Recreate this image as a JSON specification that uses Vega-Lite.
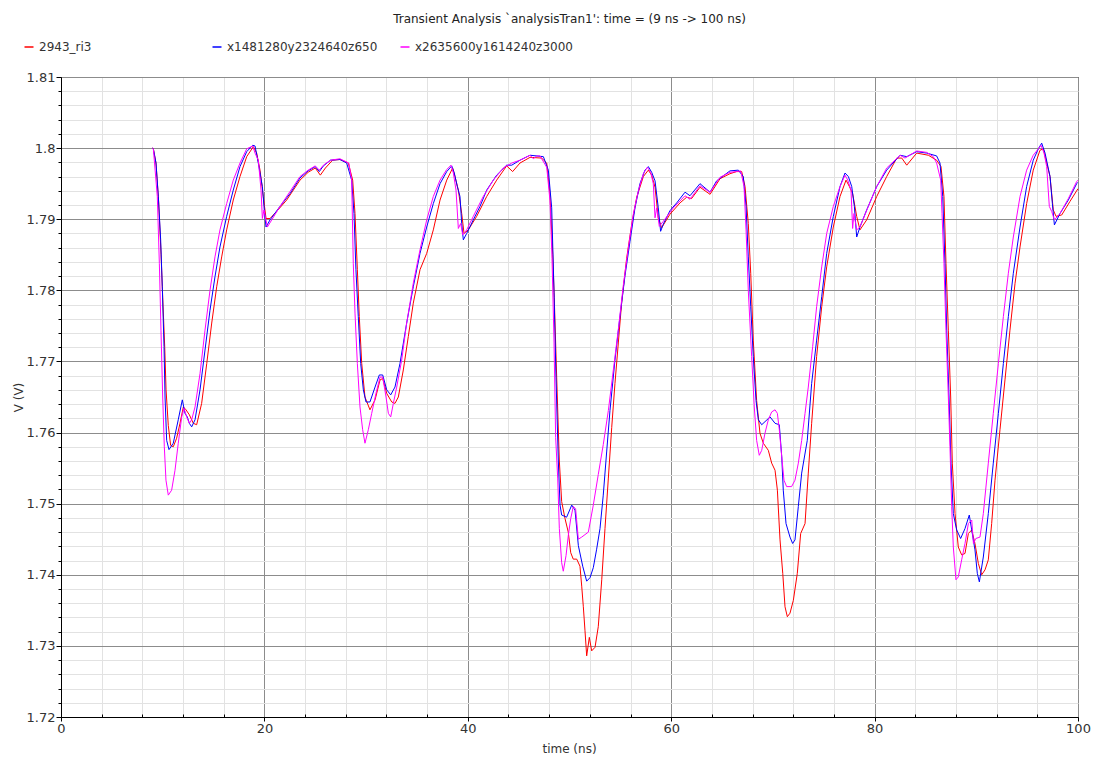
{
  "$schema": "https://vega.github.io/schema/vega-lite/v6.json",
  "width": 1017,
  "height": 640,
  "autosize": {"type": "none"},
  "padding": {"left": 61, "top": 77, "right": 18, "bottom": 41},
  "background": "white",
  "title": {
    "text": "Transient Analysis `analysisTran1': time = (9 ns -> 100 ns)",
    "anchor": "middle",
    "font": "DejaVu Sans",
    "fontSize": 12,
    "fontWeight": "normal",
    "color": "#222222",
    "offset": 15
  },
  "config": {
    "view": {"stroke": "black", "strokeWidth": 1},
    "axis": {"labelFont": "DejaVu Sans", "titleFont": "DejaVu Sans", "titleFontWeight": "normal", "labelColor": "#333333", "titleColor": "#333333", "labelFlush": false}
  },
  "datasets": {
    "curves": [
      {"s":"2943_ri3","t":9,"v":1.8},{"s":"2943_ri3","t":9.08,"v":1.7999},{"s":"2943_ri3","t":9.34,"v":1.7979},{"s":"2943_ri3","t":9.6,"v":1.7925},{"s":"2943_ri3","t":9.84,"v":1.785},{"s":"2943_ri3","t":10.0,"v":1.779},{"s":"2943_ri3","t":10.2,"v":1.772},{"s":"2943_ri3","t":10.33,"v":1.766},{"s":"2943_ri3","t":10.55,"v":1.761},{"s":"2943_ri3","t":10.78,"v":1.7582},{"s":"2943_ri3","t":11.04,"v":1.758},{"s":"2943_ri3","t":11.37,"v":1.7592},{"s":"2943_ri3","t":11.7,"v":1.7613},{"s":"2943_ri3","t":12.03,"v":1.7636},{"s":"2943_ri3","t":12.29,"v":1.7632},{"s":"2943_ri3","t":12.62,"v":1.7625},{"s":"2943_ri3","t":13.01,"v":1.7613},{"s":"2943_ri3","t":13.34,"v":1.7611},{"s":"2943_ri3","t":13.83,"v":1.7641},{"s":"2943_ri3","t":14.33,"v":1.7697},{"s":"2943_ri3","t":14.82,"v":1.7754},{"s":"2943_ri3","t":15.31,"v":1.7805},{"s":"2943_ri3","t":15.8,"v":1.7847},{"s":"2943_ri3","t":16.29,"v":1.7885},{"s":"2943_ri3","t":16.94,"v":1.7927},{"s":"2943_ri3","t":17.6,"v":1.796},{"s":"2943_ri3","t":18.26,"v":1.7988},{"s":"2943_ri3","t":18.91,"v":1.8002},{"s":"2943_ri3","t":19.24,"v":1.7993},{"s":"2943_ri3","t":19.57,"v":1.7969},{"s":"2943_ri3","t":19.89,"v":1.7932},{"s":"2943_ri3","t":20.16,"v":1.7901},{"s":"2943_ri3","t":20.55,"v":1.7901},{"s":"2943_ri3","t":21.21,"v":1.7911},{"s":"2943_ri3","t":22.19,"v":1.7927},{"s":"2943_ri3","t":23.5,"v":1.7955},{"s":"2943_ri3","t":24.3,"v":1.7966},{"s":"2943_ri3","t":25.0,"v":1.7972},{"s":"2943_ri3","t":25.5,"v":1.7962},{"s":"2943_ri3","t":26.0,"v":1.7972},{"s":"2943_ri3","t":26.7,"v":1.7983},{"s":"2943_ri3","t":27.43,"v":1.7984},{"s":"2943_ri3","t":28.25,"v":1.7979},{"s":"2943_ri3","t":28.68,"v":1.7955},{"s":"2943_ri3","t":28.91,"v":1.7908},{"s":"2943_ri3","t":29.14,"v":1.7829},{"s":"2943_ri3","t":29.33,"v":1.7763},{"s":"2943_ri3","t":29.57,"v":1.7697},{"s":"2943_ri3","t":29.89,"v":1.765},{"s":"2943_ri3","t":30.38,"v":1.7632},{"s":"2943_ri3","t":30.88,"v":1.7646},{"s":"2943_ri3","t":31.37,"v":1.7674},{"s":"2943_ri3","t":31.63,"v":1.7676},{"s":"2943_ri3","t":32.03,"v":1.7655},{"s":"2943_ri3","t":32.52,"v":1.7643},{"s":"2943_ri3","t":32.84,"v":1.7641},{"s":"2943_ri3","t":33.17,"v":1.765},{"s":"2943_ri3","t":33.66,"v":1.7688},{"s":"2943_ri3","t":34.15,"v":1.7735},{"s":"2943_ri3","t":34.64,"v":1.7782},{"s":"2943_ri3","t":35.3,"v":1.7829},{"s":"2943_ri3","t":35.96,"v":1.7852},{"s":"2943_ri3","t":36.61,"v":1.7885},{"s":"2943_ri3","t":37.27,"v":1.7927},{"s":"2943_ri3","t":37.93,"v":1.7955},{"s":"2943_ri3","t":38.51,"v":1.7972},{"s":"2943_ri3","t":38.74,"v":1.796},{"s":"2943_ri3","t":39.07,"v":1.7941},{"s":"2943_ri3","t":39.4,"v":1.7908},{"s":"2943_ri3","t":39.63,"v":1.788},{"s":"2943_ri3","t":40.05,"v":1.7885},{"s":"2943_ri3","t":40.87,"v":1.7904},{"s":"2943_ri3","t":41.86,"v":1.7932},{"s":"2943_ri3","t":42.84,"v":1.7955},{"s":"2943_ri3","t":43.82,"v":1.7975},{"s":"2943_ri3","t":44.41,"v":1.7967},{"s":"2943_ri3","t":45.13,"v":1.7979},{"s":"2943_ri3","t":46.12,"v":1.7987},{"s":"2943_ri3","t":47.26,"v":1.7986},{"s":"2943_ri3","t":47.76,"v":1.7979},{"s":"2943_ri3","t":48.08,"v":1.7935},{"s":"2943_ri3","t":48.35,"v":1.785},{"s":"2943_ri3","t":48.5,"v":1.779},{"s":"2943_ri3","t":48.74,"v":1.7678},{"s":"2943_ri3","t":49.0,"v":1.756},{"s":"2943_ri3","t":49.23,"v":1.7503},{"s":"2943_ri3","t":49.56,"v":1.7479},{"s":"2943_ri3","t":49.88,"v":1.746},{"s":"2943_ri3","t":50.12,"v":1.7431},{"s":"2943_ri3","t":50.37,"v":1.7422},{"s":"2943_ri3","t":50.71,"v":1.7422},{"s":"2943_ri3","t":51.03,"v":1.7412},{"s":"2943_ri3","t":51.2,"v":1.7384},{"s":"2943_ri3","t":51.36,"v":1.7355},{"s":"2943_ri3","t":51.52,"v":1.7322},{"s":"2943_ri3","t":51.69,"v":1.7286},{"s":"2943_ri3","t":51.95,"v":1.7312},{"s":"2943_ri3","t":52.18,"v":1.7293},{"s":"2943_ri3","t":52.51,"v":1.7298},{"s":"2943_ri3","t":52.83,"v":1.7327},{"s":"2943_ri3","t":53.17,"v":1.7393},{"s":"2943_ri3","t":53.49,"v":1.7465},{"s":"2943_ri3","t":53.82,"v":1.7536},{"s":"2943_ri3","t":54.15,"v":1.7607},{"s":"2943_ri3","t":54.47,"v":1.7669},{"s":"2943_ri3","t":54.8,"v":1.7726},{"s":"2943_ri3","t":55.13,"v":1.7783},{"s":"2943_ri3","t":55.62,"v":1.7845},{"s":"2943_ri3","t":56.12,"v":1.7893},{"s":"2943_ri3","t":56.61,"v":1.7931},{"s":"2943_ri3","t":57.26,"v":1.796},{"s":"2943_ri3","t":57.75,"v":1.7969},{"s":"2943_ri3","t":58.08,"v":1.7962},{"s":"2943_ri3","t":58.41,"v":1.7945},{"s":"2943_ri3","t":58.73,"v":1.7902},{"s":"2943_ri3","t":59.06,"v":1.7888},{"s":"2943_ri3","t":59.88,"v":1.7907},{"s":"2943_ri3","t":60.87,"v":1.7923},{"s":"2943_ri3","t":61.52,"v":1.7931},{"s":"2943_ri3","t":62.0,"v":1.7929},{"s":"2943_ri3","t":62.83,"v":1.7945},{"s":"2943_ri3","t":63.82,"v":1.7935},{"s":"2943_ri3","t":64.8,"v":1.7957},{"s":"2943_ri3","t":65.78,"v":1.7964},{"s":"2943_ri3","t":66.43,"v":1.7967},{"s":"2943_ri3","t":66.93,"v":1.7967},{"s":"2943_ri3","t":67.26,"v":1.7946},{"s":"2943_ri3","t":67.58,"v":1.7894},{"s":"2943_ri3","t":67.82,"v":1.7824},{"s":"2943_ri3","t":68.07,"v":1.773},{"s":"2943_ri3","t":68.4,"v":1.7645},{"s":"2943_ri3","t":68.73,"v":1.7599},{"s":"2943_ri3","t":69.06,"v":1.7585},{"s":"2943_ri3","t":69.55,"v":1.7575},{"s":"2943_ri3","t":69.88,"v":1.7557},{"s":"2943_ri3","t":70.21,"v":1.7547},{"s":"2943_ri3","t":70.44,"v":1.7519},{"s":"2943_ri3","t":70.7,"v":1.7449},{"s":"2943_ri3","t":70.97,"v":1.7402},{"s":"2943_ri3","t":71.19,"v":1.7355},{"s":"2943_ri3","t":71.42,"v":1.7341},{"s":"2943_ri3","t":71.68,"v":1.7346},{"s":"2943_ri3","t":72.01,"v":1.7364},{"s":"2943_ri3","t":72.4,"v":1.7402},{"s":"2943_ri3","t":72.73,"v":1.7458},{"s":"2943_ri3","t":73.16,"v":1.7472},{"s":"2943_ri3","t":73.48,"v":1.7543},{"s":"2943_ri3","t":73.81,"v":1.7613},{"s":"2943_ri3","t":74.3,"v":1.7707},{"s":"2943_ri3","t":74.8,"v":1.7777},{"s":"2943_ri3","t":75.29,"v":1.7833},{"s":"2943_ri3","t":75.94,"v":1.7889},{"s":"2943_ri3","t":76.6,"v":1.7932},{"s":"2943_ri3","t":77.19,"v":1.7955},{"s":"2943_ri3","t":77.52,"v":1.7946},{"s":"2943_ri3","t":77.84,"v":1.7936},{"s":"2943_ri3","t":78.24,"v":1.7904},{"s":"2943_ri3","t":78.56,"v":1.7885},{"s":"2943_ri3","t":79.22,"v":1.7899},{"s":"2943_ri3","t":80.21,"v":1.7932},{"s":"2943_ri3","t":81.19,"v":1.796},{"s":"2943_ri3","t":82.18,"v":1.7986},{"s":"2943_ri3","t":82.67,"v":1.7986},{"s":"2943_ri3","t":83.16,"v":1.7976},{"s":"2943_ri3","t":84.14,"v":1.7993},{"s":"2943_ri3","t":85.28,"v":1.799},{"s":"2943_ri3","t":86.1,"v":1.7983},{"s":"2943_ri3","t":86.53,"v":1.7974},{"s":"2943_ri3","t":86.82,"v":1.7932},{"s":"2943_ri3","t":87.02,"v":1.7838},{"s":"2943_ri3","t":87.25,"v":1.7744},{"s":"2943_ri3","t":87.48,"v":1.765},{"s":"2943_ri3","t":87.64,"v":1.7557},{"s":"2943_ri3","t":87.91,"v":1.7486},{"s":"2943_ri3","t":88.23,"v":1.7439},{"s":"2943_ri3","t":88.56,"v":1.7428},{"s":"2943_ri3","t":88.89,"v":1.743},{"s":"2943_ri3","t":89.22,"v":1.7458},{"s":"2943_ri3","t":89.55,"v":1.7463},{"s":"2943_ri3","t":89.87,"v":1.7444},{"s":"2943_ri3","t":90.2,"v":1.7416},{"s":"2943_ri3","t":90.53,"v":1.74},{"s":"2943_ri3","t":90.86,"v":1.7407},{"s":"2943_ri3","t":91.18,"v":1.7421},{"s":"2943_ri3","t":91.51,"v":1.7472},{"s":"2943_ri3","t":91.84,"v":1.7533},{"s":"2943_ri3","t":92.33,"v":1.7604},{"s":"2943_ri3","t":92.82,"v":1.7674},{"s":"2943_ri3","t":93.31,"v":1.7744},{"s":"2943_ri3","t":93.81,"v":1.781},{"s":"2943_ri3","t":94.3,"v":1.7861},{"s":"2943_ri3","t":94.95,"v":1.7922},{"s":"2943_ri3","t":95.6,"v":1.7969},{"s":"2943_ri3","t":96.26,"v":1.7997},{"s":"2943_ri3","t":96.59,"v":1.7999},{"s":"2943_ri3","t":96.92,"v":1.7979},{"s":"2943_ri3","t":97.25,"v":1.796},{"s":"2943_ri3","t":97.57,"v":1.7913},{"s":"2943_ri3","t":97.84,"v":1.7904},{"s":"2943_ri3","t":98.4,"v":1.7906},{"s":"2943_ri3","t":99.21,"v":1.7925},{"s":"2943_ri3","t":100,"v":1.7943},

      {"s":"x1481280y2324640z650","t":9,"v":1.8},{"s":"x1481280y2324640z650","t":9.08,"v":1.7999},{"s":"x1481280y2324640z650","t":9.34,"v":1.7979},{"s":"x1481280y2324640z650","t":9.57,"v":1.7932},{"s":"x1481280y2324640z650","t":9.8,"v":1.7871},{"s":"x1481280y2324640z650","t":9.96,"v":1.7805},{"s":"x1481280y2324640z650","t":10.13,"v":1.7721},{"s":"x1481280y2324640z650","t":10.23,"v":1.765},{"s":"x1481280y2324640z650","t":10.39,"v":1.7589},{"s":"x1481280y2324640z650","t":10.62,"v":1.7576},{"s":"x1481280y2324640z650","t":11.04,"v":1.7585},{"s":"x1481280y2324640z650","t":11.53,"v":1.7618},{"s":"x1481280y2324640z650","t":11.93,"v":1.7646},{"s":"x1481280y2324640z650","t":12.19,"v":1.7627},{"s":"x1481280y2324640z650","t":12.42,"v":1.7622},{"s":"x1481280y2324640z650","t":12.62,"v":1.7613},{"s":"x1481280y2324640z650","t":12.85,"v":1.7608},{"s":"x1481280y2324640z650","t":13.18,"v":1.7618},{"s":"x1481280y2324640z650","t":13.67,"v":1.766},{"s":"x1481280y2324640z650","t":14.16,"v":1.7716},{"s":"x1481280y2324640z650","t":14.65,"v":1.7772},{"s":"x1481280y2324640z650","t":15.14,"v":1.7819},{"s":"x1481280y2324640z650","t":15.63,"v":1.7861},{"s":"x1481280y2324640z650","t":16.29,"v":1.7904},{"s":"x1481280y2324640z650","t":16.94,"v":1.7941},{"s":"x1481280y2324640z650","t":17.6,"v":1.7974},{"s":"x1481280y2324640z650","t":18.26,"v":1.7995},{"s":"x1481280y2324640z650","t":18.85,"v":1.8004},{"s":"x1481280y2324640z650","t":19.08,"v":1.8003},{"s":"x1481280y2324640z650","t":19.4,"v":1.7979},{"s":"x1481280y2324640z650","t":19.8,"v":1.7946},{"s":"x1481280y2324640z650","t":19.99,"v":1.7913},{"s":"x1481280y2324640z650","t":20.16,"v":1.7889},{"s":"x1481280y2324640z650","t":20.55,"v":1.7899},{"s":"x1481280y2324640z650","t":21.53,"v":1.7918},{"s":"x1481280y2324640z650","t":22.52,"v":1.7936},{"s":"x1481280y2324640z650","t":23.5,"v":1.7958},{"s":"x1481280y2324640z650","t":24.3,"v":1.7968},{"s":"x1481280y2324640z650","t":25.0,"v":1.7974},{"s":"x1481280y2324640z650","t":25.4,"v":1.7967},{"s":"x1481280y2324640z650","t":25.8,"v":1.7975},{"s":"x1481280y2324640z650","t":26.5,"v":1.7983},{"s":"x1481280y2324640z650","t":27.43,"v":1.7984},{"s":"x1481280y2324640z650","t":28.09,"v":1.7979},{"s":"x1481280y2324640z650","t":28.58,"v":1.7955},{"s":"x1481280y2324640z650","t":28.81,"v":1.7908},{"s":"x1481280y2324640z650","t":29.0,"v":1.7829},{"s":"x1481280y2324640z650","t":29.23,"v":1.7763},{"s":"x1481280y2324640z650","t":29.47,"v":1.7697},{"s":"x1481280y2324640z650","t":29.73,"v":1.766},{"s":"x1481280y2324640z650","t":29.99,"v":1.7643},{"s":"x1481280y2324640z650","t":30.38,"v":1.7643},{"s":"x1481280y2324640z650","t":30.88,"v":1.7664},{"s":"x1481280y2324640z650","t":31.3,"v":1.7681},{"s":"x1481280y2324640z650","t":31.63,"v":1.7681},{"s":"x1481280y2324640z650","t":32.03,"v":1.766},{"s":"x1481280y2324640z650","t":32.42,"v":1.7653},{"s":"x1481280y2324640z650","t":32.84,"v":1.7664},{"s":"x1481280y2324640z650","t":33.33,"v":1.7697},{"s":"x1481280y2324640z650","t":33.99,"v":1.7754},{"s":"x1481280y2324640z650","t":34.64,"v":1.7805},{"s":"x1481280y2324640z650","t":35.3,"v":1.7852},{"s":"x1481280y2324640z650","t":35.96,"v":1.7889},{"s":"x1481280y2324640z650","t":36.61,"v":1.7922},{"s":"x1481280y2324640z650","t":37.27,"v":1.795},{"s":"x1481280y2324640z650","t":37.93,"v":1.7967},{"s":"x1481280y2324640z650","t":38.42,"v":1.7975},{"s":"x1481280y2324640z650","t":38.67,"v":1.7965},{"s":"x1481280y2324640z650","t":38.97,"v":1.7946},{"s":"x1481280y2324640z650","t":39.23,"v":1.7932},{"s":"x1481280y2324640z650","t":39.4,"v":1.7894},{"s":"x1481280y2324640z650","t":39.56,"v":1.7871},{"s":"x1481280y2324640z650","t":39.89,"v":1.788},{"s":"x1481280y2324640z650","t":40.54,"v":1.7899},{"s":"x1481280y2324640z650","t":41.2,"v":1.7918},{"s":"x1481280y2324640z650","t":41.86,"v":1.7941},{"s":"x1481280y2324640z650","t":42.84,"v":1.7962},{"s":"x1481280y2324640z650","t":43.82,"v":1.7976},{"s":"x1481280y2324640z650","t":44.32,"v":1.7976},{"s":"x1481280y2324640z650","t":45.13,"v":1.7983},{"s":"x1481280y2324640z650","t":46.12,"v":1.799},{"s":"x1481280y2324640z650","t":47.43,"v":1.7988},{"s":"x1481280y2324640z650","t":47.92,"v":1.7969},{"s":"x1481280y2324640z650","t":48.25,"v":1.7916},{"s":"x1481280y2324640z650","t":48.48,"v":1.7797},{"s":"x1481280y2324640z650","t":48.67,"v":1.7678},{"s":"x1481280y2324640z650","t":48.9,"v":1.756},{"s":"x1481280y2324640z650","t":49.07,"v":1.7498},{"s":"x1481280y2324640z650","t":49.23,"v":1.7484},{"s":"x1481280y2324640z650","t":49.72,"v":1.7481},{"s":"x1481280y2324640z650","t":50.22,"v":1.7498},{"s":"x1481280y2324640z650","t":50.54,"v":1.7491},{"s":"x1481280y2324640z650","t":50.87,"v":1.7441},{"s":"x1481280y2324640z650","t":51.3,"v":1.7412},{"s":"x1481280y2324640z650","t":51.69,"v":1.7391},{"s":"x1481280y2324640z650","t":52.02,"v":1.7396},{"s":"x1481280y2324640z650","t":52.34,"v":1.741},{"s":"x1481280y2324640z650","t":52.67,"v":1.7436},{"s":"x1481280y2324640z650","t":53.0,"v":1.7465},{"s":"x1481280y2324640z650","t":53.32,"v":1.7512},{"s":"x1481280y2324640z650","t":53.66,"v":1.7574},{"s":"x1481280y2324640z650","t":53.98,"v":1.7631},{"s":"x1481280y2324640z650","t":54.47,"v":1.7702},{"s":"x1481280y2324640z650","t":54.97,"v":1.7764},{"s":"x1481280y2324640z650","t":55.46,"v":1.7821},{"s":"x1481280y2324640z650","t":55.95,"v":1.7869},{"s":"x1481280y2324640z650","t":56.44,"v":1.7916},{"s":"x1481280y2324640z650","t":56.93,"v":1.795},{"s":"x1481280y2324640z650","t":57.42,"v":1.7969},{"s":"x1481280y2324640z650","t":57.75,"v":1.7974},{"s":"x1481280y2324640z650","t":58.08,"v":1.7966},{"s":"x1481280y2324640z650","t":58.41,"v":1.7954},{"s":"x1481280y2324640z650","t":58.73,"v":1.7916},{"s":"x1481280y2324640z650","t":58.96,"v":1.7883},{"s":"x1481280y2324640z650","t":59.22,"v":1.7893},{"s":"x1481280y2324640z650","t":59.88,"v":1.7912},{"s":"x1481280y2324640z650","t":60.54,"v":1.7923},{"s":"x1481280y2324640z650","t":61.36,"v":1.7938},{"s":"x1481280y2324640z650","t":61.85,"v":1.7933},{"s":"x1481280y2324640z650","t":62.83,"v":1.795},{"s":"x1481280y2324640z650","t":63.82,"v":1.7938},{"s":"x1481280y2324640z650","t":64.47,"v":1.7954},{"s":"x1481280y2324640z650","t":65.78,"v":1.7968},{"s":"x1481280y2324640z650","t":66.6,"v":1.7969},{"s":"x1481280y2324640z650","t":67.09,"v":1.796},{"s":"x1481280y2324640z650","t":67.36,"v":1.7918},{"s":"x1481280y2324640z650","t":67.58,"v":1.7847},{"s":"x1481280y2324640z650","t":67.82,"v":1.7777},{"s":"x1481280y2324640z650","t":68.07,"v":1.7707},{"s":"x1481280y2324640z650","t":68.34,"v":1.7645},{"s":"x1481280y2324640z650","t":68.57,"v":1.7618},{"s":"x1481280y2324640z650","t":68.9,"v":1.7611},{"s":"x1481280y2324640z650","t":69.72,"v":1.7622},{"s":"x1481280y2324640z650","t":70.21,"v":1.7613},{"s":"x1481280y2324640z650","t":70.63,"v":1.7611},{"s":"x1481280y2324640z650","t":70.87,"v":1.7566},{"s":"x1481280y2324640z650","t":71.02,"v":1.7519},{"s":"x1481280y2324640z650","t":71.29,"v":1.7472},{"s":"x1481280y2324640z650","t":71.68,"v":1.7453},{"s":"x1481280y2324640z650","t":71.94,"v":1.7444},{"s":"x1481280y2324640z650","t":72.17,"v":1.7449},{"s":"x1481280y2324640z650","t":72.5,"v":1.7496},{"s":"x1481280y2324640z650","t":72.83,"v":1.7543},{"s":"x1481280y2324640z650","t":73.38,"v":1.7589},{"s":"x1481280y2324640z650","t":73.81,"v":1.7669},{"s":"x1481280y2324640z650","t":74.3,"v":1.773},{"s":"x1481280y2324640z650","t":74.8,"v":1.7791},{"s":"x1481280y2324640z650","t":75.29,"v":1.7852},{"s":"x1481280y2324640z650","t":75.94,"v":1.7904},{"s":"x1481280y2324640z650","t":76.6,"v":1.7946},{"s":"x1481280y2324640z650","t":77.09,"v":1.7965},{"s":"x1481280y2324640z650","t":77.42,"v":1.796},{"s":"x1481280y2324640z650","t":77.75,"v":1.7946},{"s":"x1481280y2324640z650","t":78.01,"v":1.7918},{"s":"x1481280y2324640z650","t":78.24,"v":1.7875},{"s":"x1481280y2324640z650","t":78.56,"v":1.7889},{"s":"x1481280y2324640z650","t":79.22,"v":1.7913},{"s":"x1481280y2324640z650","t":80.21,"v":1.7946},{"s":"x1481280y2324640z650","t":81.19,"v":1.7969},{"s":"x1481280y2324640z650","t":82.5,"v":1.799},{"s":"x1481280y2324640z650","t":83.16,"v":1.7988},{"s":"x1481280y2324640z650","t":84.14,"v":1.7995},{"s":"x1481280y2324640z650","t":85.12,"v":1.7993},{"s":"x1481280y2324640z650","t":86.1,"v":1.7989},{"s":"x1481280y2324640z650","t":86.43,"v":1.7979},{"s":"x1481280y2324640z650","t":86.7,"v":1.7932},{"s":"x1481280y2324640z650","t":86.92,"v":1.7838},{"s":"x1481280y2324640z650","t":87.09,"v":1.7744},{"s":"x1481280y2324640z650","t":87.32,"v":1.765},{"s":"x1481280y2324640z650","t":87.51,"v":1.7557},{"s":"x1481280y2324640z650","t":87.74,"v":1.7486},{"s":"x1481280y2324640z650","t":88.07,"v":1.7463},{"s":"x1481280y2324640z650","t":88.46,"v":1.7451},{"s":"x1481280y2324640z650","t":88.89,"v":1.7465},{"s":"x1481280y2324640z650","t":89.31,"v":1.7484},{"s":"x1481280y2324640z650","t":89.55,"v":1.7463},{"s":"x1481280y2324640z650","t":89.87,"v":1.7435},{"s":"x1481280y2324640z650","t":90.1,"v":1.7402},{"s":"x1481280y2324640z650","t":90.3,"v":1.739},{"s":"x1481280y2324640z650","t":90.69,"v":1.7425},{"s":"x1481280y2324640z650","t":91.18,"v":1.7486},{"s":"x1481280y2324640z650","t":91.67,"v":1.7557},{"s":"x1481280y2324640z650","t":92.17,"v":1.7627},{"s":"x1481280y2324640z650","t":92.66,"v":1.7697},{"s":"x1481280y2324640z650","t":93.15,"v":1.7763},{"s":"x1481280y2324640z650","t":93.64,"v":1.7824},{"s":"x1481280y2324640z650","t":94.3,"v":1.7889},{"s":"x1481280y2324640z650","t":94.95,"v":1.7946},{"s":"x1481280y2324640z650","t":95.6,"v":1.7983},{"s":"x1481280y2324640z650","t":96.1,"v":1.7999},{"s":"x1481280y2324640z650","t":96.43,"v":1.8007},{"s":"x1481280y2324640z650","t":96.76,"v":1.7993},{"s":"x1481280y2324640z650","t":97.25,"v":1.796},{"s":"x1481280y2324640z650","t":97.48,"v":1.7922},{"s":"x1481280y2324640z650","t":97.68,"v":1.7892},{"s":"x1481280y2324640z650","t":98.23,"v":1.7908},{"s":"x1481280y2324640z650","t":99.05,"v":1.7927},{"s":"x1481280y2324640z650","t":99.87,"v":1.795},{"s":"x1481280y2324640z650","t":100,"v":1.7952},

      {"s":"x2635600y1614240z3000","t":9,"v":1.8},{"s":"x2635600y1614240z3000","t":9.08,"v":1.7999},{"s":"x2635600y1614240z3000","t":9.47,"v":1.7932},{"s":"x2635600y1614240z3000","t":9.67,"v":1.7838},{"s":"x2635600y1614240z3000","t":9.83,"v":1.7744},{"s":"x2635600y1614240z3000","t":10.0,"v":1.765},{"s":"x2635600y1614240z3000","t":10.16,"v":1.758},{"s":"x2635600y1614240z3000","t":10.32,"v":1.7533},{"s":"x2635600y1614240z3000","t":10.55,"v":1.7512},{"s":"x2635600y1614240z3000","t":10.88,"v":1.7519},{"s":"x2635600y1614240z3000","t":11.21,"v":1.7547},{"s":"x2635600y1614240z3000","t":11.53,"v":1.7585},{"s":"x2635600y1614240z3000","t":11.87,"v":1.7622},{"s":"x2635600y1614240z3000","t":12.09,"v":1.7634},{"s":"x2635600y1614240z3000","t":12.36,"v":1.7622},{"s":"x2635600y1614240z3000","t":12.62,"v":1.7613},{"s":"x2635600y1614240z3000","t":12.85,"v":1.7618},{"s":"x2635600y1614240z3000","t":13.18,"v":1.7636},{"s":"x2635600y1614240z3000","t":13.67,"v":1.7683},{"s":"x2635600y1614240z3000","t":14.16,"v":1.7744},{"s":"x2635600y1614240z3000","t":14.65,"v":1.78},{"s":"x2635600y1614240z3000","t":15.14,"v":1.7847},{"s":"x2635600y1614240z3000","t":15.63,"v":1.7885},{"s":"x2635600y1614240z3000","t":16.29,"v":1.7922},{"s":"x2635600y1614240z3000","t":16.94,"v":1.7955},{"s":"x2635600y1614240z3000","t":17.6,"v":1.7979},{"s":"x2635600y1614240z3000","t":18.26,"v":1.7999},{"s":"x2635600y1614240z3000","t":18.85,"v":1.8003},{"s":"x2635600y1614240z3000","t":19.08,"v":1.7993},{"s":"x2635600y1614240z3000","t":19.4,"v":1.7983},{"s":"x2635600y1614240z3000","t":19.67,"v":1.7941},{"s":"x2635600y1614240z3000","t":19.8,"v":1.7901},{"s":"x2635600y1614240z3000","t":19.96,"v":1.7913},{"s":"x2635600y1614240z3000","t":20.29,"v":1.7889},{"s":"x2635600y1614240z3000","t":20.72,"v":1.7899},{"s":"x2635600y1614240z3000","t":21.53,"v":1.7918},{"s":"x2635600y1614240z3000","t":22.52,"v":1.7939},{"s":"x2635600y1614240z3000","t":23.5,"v":1.796},{"s":"x2635600y1614240z3000","t":24.3,"v":1.7969},{"s":"x2635600y1614240z3000","t":25.0,"v":1.7975},{"s":"x2635600y1614240z3000","t":25.4,"v":1.7969},{"s":"x2635600y1614240z3000","t":25.8,"v":1.7976},{"s":"x2635600y1614240z3000","t":26.5,"v":1.7983},{"s":"x2635600y1614240z3000","t":27.43,"v":1.7985},{"s":"x2635600y1614240z3000","t":28.3,"v":1.7979},{"s":"x2635600y1614240z3000","t":28.58,"v":1.7955},{"s":"x2635600y1614240z3000","t":28.74,"v":1.7838},{"s":"x2635600y1614240z3000","t":28.91,"v":1.7768},{"s":"x2635600y1614240z3000","t":29.14,"v":1.7697},{"s":"x2635600y1614240z3000","t":29.4,"v":1.7636},{"s":"x2635600y1614240z3000","t":29.66,"v":1.7604},{"s":"x2635600y1614240z3000","t":29.89,"v":1.7585},{"s":"x2635600y1614240z3000","t":30.22,"v":1.7604},{"s":"x2635600y1614240z3000","t":30.55,"v":1.7627},{"s":"x2635600y1614240z3000","t":30.97,"v":1.7655},{"s":"x2635600y1614240z3000","t":31.37,"v":1.7678},{"s":"x2635600y1614240z3000","t":31.63,"v":1.7678},{"s":"x2635600y1614240z3000","t":31.96,"v":1.765},{"s":"x2635600y1614240z3000","t":32.19,"v":1.7627},{"s":"x2635600y1614240z3000","t":32.42,"v":1.7622},{"s":"x2635600y1614240z3000","t":32.68,"v":1.7641},{"s":"x2635600y1614240z3000","t":33.01,"v":1.7664},{"s":"x2635600y1614240z3000","t":33.5,"v":1.7702},{"s":"x2635600y1614240z3000","t":33.99,"v":1.7754},{"s":"x2635600y1614240z3000","t":34.64,"v":1.781},{"s":"x2635600y1614240z3000","t":35.3,"v":1.7857},{"s":"x2635600y1614240z3000","t":35.96,"v":1.7899},{"s":"x2635600y1614240z3000","t":36.61,"v":1.7932},{"s":"x2635600y1614240z3000","t":37.27,"v":1.7955},{"s":"x2635600y1614240z3000","t":37.93,"v":1.797},{"s":"x2635600y1614240z3000","t":38.35,"v":1.7976},{"s":"x2635600y1614240z3000","t":38.58,"v":1.7965},{"s":"x2635600y1614240z3000","t":38.84,"v":1.7941},{"s":"x2635600y1614240z3000","t":39.07,"v":1.7887},{"s":"x2635600y1614240z3000","t":39.3,"v":1.7894},{"s":"x2635600y1614240z3000","t":39.5,"v":1.7878},{"s":"x2635600y1614240z3000","t":39.89,"v":1.7885},{"s":"x2635600y1614240z3000","t":40.54,"v":1.7904},{"s":"x2635600y1614240z3000","t":41.52,"v":1.7932},{"s":"x2635600y1614240z3000","t":42.51,"v":1.7955},{"s":"x2635600y1614240z3000","t":43.49,"v":1.7972},{"s":"x2635600y1614240z3000","t":44.32,"v":1.7979},{"s":"x2635600y1614240z3000","t":45.13,"v":1.7983},{"s":"x2635600y1614240z3000","t":46.12,"v":1.799},{"s":"x2635600y1614240z3000","t":46.44,"v":1.7985},{"s":"x2635600y1614240z3000","t":46.78,"v":1.7989},{"s":"x2635600y1614240z3000","t":47.1,"v":1.7989},{"s":"x2635600y1614240z3000","t":47.76,"v":1.7973},{"s":"x2635600y1614240z3000","t":48.08,"v":1.7926},{"s":"x2635600y1614240z3000","t":48.28,"v":1.7845},{"s":"x2635600y1614240z3000","t":48.48,"v":1.7726},{"s":"x2635600y1614240z3000","t":48.64,"v":1.7593},{"s":"x2635600y1614240z3000","t":48.84,"v":1.7536},{"s":"x2635600y1614240z3000","t":49.0,"v":1.7465},{"s":"x2635600y1614240z3000","t":49.23,"v":1.7417},{"s":"x2635600y1614240z3000","t":49.39,"v":1.7405},{"s":"x2635600y1614240z3000","t":49.66,"v":1.7427},{"s":"x2635600y1614240z3000","t":49.88,"v":1.7455},{"s":"x2635600y1614240z3000","t":50.12,"v":1.7479},{"s":"x2635600y1614240z3000","t":50.37,"v":1.7496},{"s":"x2635600y1614240z3000","t":50.6,"v":1.7493},{"s":"x2635600y1614240z3000","t":50.87,"v":1.745},{"s":"x2635600y1614240z3000","t":51.2,"v":1.7453},{"s":"x2635600y1614240z3000","t":51.85,"v":1.746},{"s":"x2635600y1614240z3000","t":52.34,"v":1.7498},{"s":"x2635600y1614240z3000","t":52.83,"v":1.7541},{"s":"x2635600y1614240z3000","t":53.32,"v":1.7583},{"s":"x2635600y1614240z3000","t":53.82,"v":1.7631},{"s":"x2635600y1614240z3000","t":54.31,"v":1.7688},{"s":"x2635600y1614240z3000","t":54.8,"v":1.7745},{"s":"x2635600y1614240z3000","t":55.29,"v":1.7807},{"s":"x2635600y1614240z3000","t":55.78,"v":1.7859},{"s":"x2635600y1614240z3000","t":56.27,"v":1.7907},{"s":"x2635600y1614240z3000","t":56.77,"v":1.794},{"s":"x2635600y1614240z3000","t":57.26,"v":1.7964},{"s":"x2635600y1614240z3000","t":57.65,"v":1.7973},{"s":"x2635600y1614240z3000","t":57.98,"v":1.7966},{"s":"x2635600y1614240z3000","t":58.24,"v":1.795},{"s":"x2635600y1614240z3000","t":58.41,"v":1.7902},{"s":"x2635600y1614240z3000","t":58.57,"v":1.7916},{"s":"x2635600y1614240z3000","t":58.83,"v":1.789},{"s":"x2635600y1614240z3000","t":59.22,"v":1.7897},{"s":"x2635600y1614240z3000","t":60.21,"v":1.7916},{"s":"x2635600y1614240z3000","t":61.36,"v":1.7933},{"s":"x2635600y1614240z3000","t":61.85,"v":1.7928},{"s":"x2635600y1614240z3000","t":62.83,"v":1.7947},{"s":"x2635600y1614240z3000","t":63.82,"v":1.7938},{"s":"x2635600y1614240z3000","t":64.8,"v":1.7959},{"s":"x2635600y1614240z3000","t":65.78,"v":1.7966},{"s":"x2635600y1614240z3000","t":66.43,"v":1.7967},{"s":"x2635600y1614240z3000","t":66.83,"v":1.7968},{"s":"x2635600y1614240z3000","t":67.16,"v":1.7946},{"s":"x2635600y1614240z3000","t":67.36,"v":1.7885},{"s":"x2635600y1614240z3000","t":67.58,"v":1.78},{"s":"x2635600y1614240z3000","t":67.91,"v":1.7707},{"s":"x2635600y1614240z3000","t":68.17,"v":1.7636},{"s":"x2635600y1614240z3000","t":68.4,"v":1.7589},{"s":"x2635600y1614240z3000","t":68.66,"v":1.7568},{"s":"x2635600y1614240z3000","t":68.9,"v":1.7575},{"s":"x2635600y1614240z3000","t":69.22,"v":1.7599},{"s":"x2635600y1614240z3000","t":69.55,"v":1.7618},{"s":"x2635600y1614240z3000","t":69.88,"v":1.7629},{"s":"x2635600y1614240z3000","t":70.21,"v":1.7632},{"s":"x2635600y1614240z3000","t":70.44,"v":1.7627},{"s":"x2635600y1614240z3000","t":70.63,"v":1.7604},{"s":"x2635600y1614240z3000","t":70.87,"v":1.7566},{"s":"x2635600y1614240z3000","t":71.09,"v":1.7533},{"s":"x2635600y1614240z3000","t":71.35,"v":1.7524},{"s":"x2635600y1614240z3000","t":71.84,"v":1.7524},{"s":"x2635600y1614240z3000","t":72.17,"v":1.7533},{"s":"x2635600y1614240z3000","t":72.5,"v":1.7557},{"s":"x2635600y1614240z3000","t":72.83,"v":1.7589},{"s":"x2635600y1614240z3000","t":73.16,"v":1.7627},{"s":"x2635600y1614240z3000","t":73.48,"v":1.7664},{"s":"x2635600y1614240z3000","t":73.91,"v":1.7721},{"s":"x2635600y1614240z3000","t":74.3,"v":1.7777},{"s":"x2635600y1614240z3000","t":74.8,"v":1.7833},{"s":"x2635600y1614240z3000","t":75.29,"v":1.788},{"s":"x2635600y1614240z3000","t":75.94,"v":1.7918},{"s":"x2635600y1614240z3000","t":76.6,"v":1.7946},{"s":"x2635600y1614240z3000","t":77.09,"v":1.7962},{"s":"x2635600y1614240z3000","t":77.36,"v":1.7955},{"s":"x2635600y1614240z3000","t":77.68,"v":1.7941},{"s":"x2635600y1614240z3000","t":77.84,"v":1.7887},{"s":"x2635600y1614240z3000","t":77.97,"v":1.7908},{"s":"x2635600y1614240z3000","t":78.24,"v":1.7885},{"s":"x2635600y1614240z3000","t":78.56,"v":1.7889},{"s":"x2635600y1614240z3000","t":79.38,"v":1.7918},{"s":"x2635600y1614240z3000","t":80.21,"v":1.7946},{"s":"x2635600y1614240z3000","t":81.19,"v":1.7972},{"s":"x2635600y1614240z3000","t":82.5,"v":1.799},{"s":"x2635600y1614240z3000","t":82.99,"v":1.7986},{"s":"x2635600y1614240z3000","t":84.14,"v":1.7996},{"s":"x2635600y1614240z3000","t":85.12,"v":1.7994},{"s":"x2635600y1614240z3000","t":85.77,"v":1.7988},{"s":"x2635600y1614240z3000","t":86.1,"v":1.7979},{"s":"x2635600y1614240z3000","t":86.5,"v":1.7955},{"s":"x2635600y1614240z3000","t":86.63,"v":1.7908},{"s":"x2635600y1614240z3000","t":86.82,"v":1.7838},{"s":"x2635600y1614240z3000","t":87.02,"v":1.7744},{"s":"x2635600y1614240z3000","t":87.25,"v":1.765},{"s":"x2635600y1614240z3000","t":87.41,"v":1.758},{"s":"x2635600y1614240z3000","t":87.58,"v":1.7496},{"s":"x2635600y1614240z3000","t":87.74,"v":1.7439},{"s":"x2635600y1614240z3000","t":88.0,"v":1.7393},{"s":"x2635600y1614240z3000","t":88.23,"v":1.7397},{"s":"x2635600y1614240z3000","t":88.56,"v":1.7421},{"s":"x2635600y1614240z3000","t":88.89,"v":1.7444},{"s":"x2635600y1614240z3000","t":89.22,"v":1.7472},{"s":"x2635600y1614240z3000","t":89.55,"v":1.7477},{"s":"x2635600y1614240z3000","t":89.72,"v":1.7444},{"s":"x2635600y1614240z3000","t":89.95,"v":1.7451},{"s":"x2635600y1614240z3000","t":90.36,"v":1.7453},{"s":"x2635600y1614240z3000","t":90.69,"v":1.7486},{"s":"x2635600y1614240z3000","t":91.18,"v":1.7557},{"s":"x2635600y1614240z3000","t":91.67,"v":1.7627},{"s":"x2635600y1614240z3000","t":92.17,"v":1.7697},{"s":"x2635600y1614240z3000","t":92.66,"v":1.7763},{"s":"x2635600y1614240z3000","t":93.15,"v":1.7824},{"s":"x2635600y1614240z3000","t":93.64,"v":1.7875},{"s":"x2635600y1614240z3000","t":94.3,"v":1.7932},{"s":"x2635600y1614240z3000","t":94.95,"v":1.7969},{"s":"x2635600y1614240z3000","t":95.6,"v":1.799},{"s":"x2635600y1614240z3000","t":96.1,"v":1.7999},{"s":"x2635600y1614240z3000","t":96.36,"v":1.8004},{"s":"x2635600y1614240z3000","t":96.66,"v":1.7993},{"s":"x2635600y1614240z3000","t":96.92,"v":1.7974},{"s":"x2635600y1614240z3000","t":97.18,"v":1.7918},{"s":"x2635600y1614240z3000","t":97.41,"v":1.7911},{"s":"x2635600y1614240z3000","t":97.68,"v":1.7899},{"s":"x2635600y1614240z3000","t":98.23,"v":1.7908},{"s":"x2635600y1614240z3000","t":99.05,"v":1.7929},{"s":"x2635600y1614240z3000","t":99.87,"v":1.7953},{"s":"x2635600y1614240z3000","t":100,"v":1.7955}
    ]
  },
  "data": {"name": "curves"},
  "layer": [
    {
      "mark": {"type": "line", "strokeOpacity": 0, "clip": true},
      "encoding": {
        "x": {"field": "t", "type": "quantitative", "scale": {"domain": [0, 100], "nice": false, "zero": false},
          "axis": {"orient": "bottom", "values": [4, 8, 12, 16, 24, 28, 32, 36, 44, 48, 52, 56, 64, 68, 72, 76, 84, 88, 92, 96], "grid": true, "gridColor": "#e2e2e2", "gridWidth": 1, "labels": false, "domain": false, "ticks": true, "tickSize": -3, "tickColor": "#000000", "title": null}},
        "y": {"field": "v", "type": "quantitative", "scale": {"domain": [1.72, 1.81], "nice": false, "zero": false},
          "axis": {"orient": "left", "values": [1.722, 1.724, 1.726, 1.728, 1.732, 1.734, 1.736, 1.738, 1.742, 1.744, 1.746, 1.748, 1.752, 1.754, 1.756, 1.758, 1.762, 1.764, 1.766, 1.768, 1.772, 1.774, 1.776, 1.778, 1.782, 1.784, 1.786, 1.788, 1.792, 1.794, 1.796, 1.798, 1.802, 1.804, 1.806, 1.808], "grid": true, "gridColor": "#e2e2e2", "gridWidth": 1, "labels": false, "domain": false, "ticks": true, "tickSize": 3, "tickColor": "#000000", "title": null}},
        "detail": {"field": "s", "type": "nominal"}
      }
    },
    {
      "mark": {"type": "line", "strokeWidth": 1, "clip": true},
      "encoding": {
        "x": {"field": "t", "type": "quantitative",
          "axis": {"orient": "bottom", "values": [0, 20, 40, 60, 80, 100], "grid": true, "gridColor": "#8c8c8c", "gridWidth": 1, "domainColor": "#000000", "tickColor": "#000000", "tickSize": 4, "labelFontSize": 13, "labelPadding": 1, "labelFlush": false, "title": "time (ns)", "titleFontSize": 12, "titleX": 508, "titleY": 31, "titleBaseline": "middle", "titleAlign": "center"}},
        "y": {"field": "v", "type": "quantitative",
          "axis": {"orient": "left", "values": [1.72, 1.73, 1.74, 1.75, 1.76, 1.77, 1.78, 1.79, 1.8, 1.81], "format": ".2~f", "grid": true, "gridColor": "#8c8c8c", "gridWidth": 1, "domainColor": "#000000", "tickColor": "#000000", "tickSize": 5, "labelFontSize": 13, "labelPadding": 1, "labelFlush": false, "title": "V (V)", "titleFontSize": 12, "titleX": -43, "titleY": 320, "titleBaseline": "middle", "titleAlign": "center", "titleAngle": 270}},
        "color": {"field": "s", "type": "nominal", "sort": null,
          "scale": {"domain": ["2943_ri3", "x1481280y2324640z650", "x2635600y1614240z3000"], "range": ["#ff0000", "#0000ff", "#ff00ff"]},
          "legend": {"orient": "none", "legendX": -38, "legendY": -36, "direction": "horizontal", "columns": 3, "gridAlign": "all", "columnPadding": 12, "title": null, "symbolType": "stroke", "symbolSize": 81, "symbolStrokeWidth": 1.5, "labelFont": "DejaVu Sans", "labelFontSize": 12, "labelColor": "#333333", "labelOffset": 4, "padding": 0}}
      }
    }
  ],
  "resolve": {"axis": {"x": "independent", "y": "independent"}}
}
